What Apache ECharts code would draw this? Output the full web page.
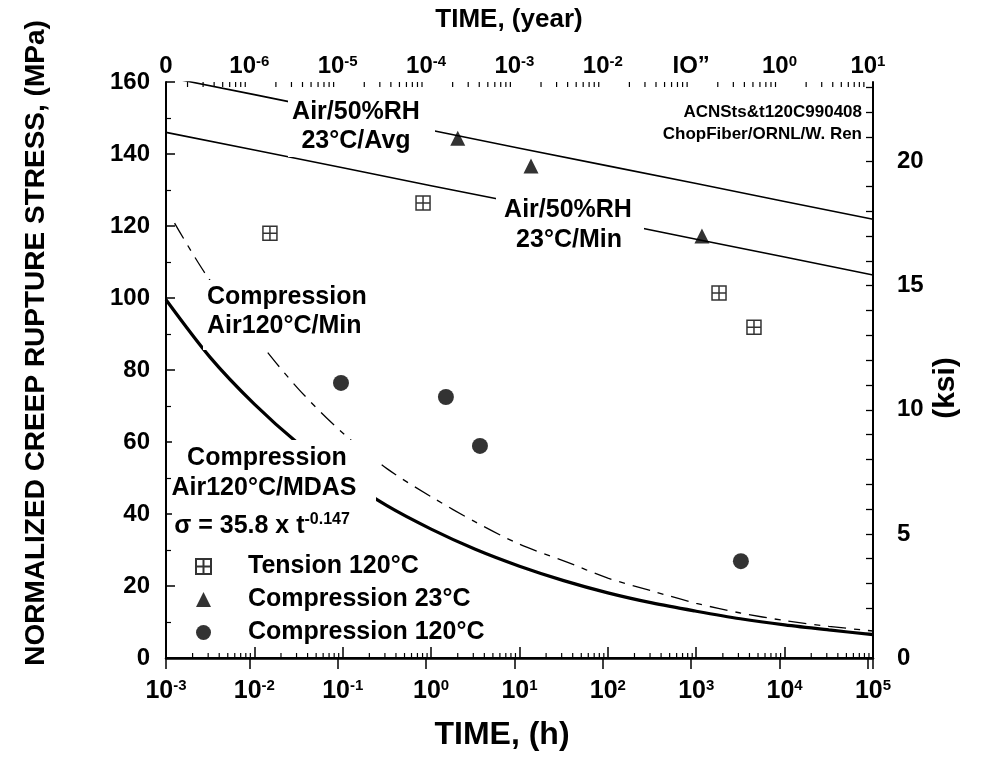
<!DOCTYPE html>
<html><head><meta charset="utf-8">
<script src="https://cdn.jsdelivr.net/npm/echarts@6/dist/echarts.min.js"></script>
<style>html,body{margin:0;padding:0;background:#fff}#c{width:993px;height:760px}</style>
</head><body><div id="c"></div>
<script>
const FONT = "'Liberation Sans', Arial, Helvetica, sans-serif";

// ---- data (time in hours, stress in MPa) ----
const tensionTime   = [0.015, 0.81, 1810, 4500];
const tensionStress = [118.0, 126.4, 101.4, 91.9];
const comp23Time    = [2.0, 13.5, 1160];
const comp23Stress  = [144.4, 136.7, 117.2];
const comp120Time   = [0.0955, 1.47, 3.57, 3200];
const comp120Stress = [76.4, 72.5, 58.9, 26.9];

const decadeTime = [1e-3, 1e-2, 1e-1, 1, 10, 100, 1e3, 1e4, 1e5];
const avgStress  = [161.4, 156.5, 151.5, 146.6, 141.6, 136.7, 131.8, 126.8, 121.9];
const minStress  = [146.0, 141.1, 136.2, 131.2, 126.3, 121.3, 116.3, 111.4, 106.4];

const dashTime   = [1.25e-3, 3e-3, 1e-2, 3.16e-2, 1e-1, 0.316, 1, 3.16, 10, 31.6, 100, 316, 1e3, 3160, 1e4, 31600, 1e5];
const dashStress = [120.8, 105.6, 89.4, 74.7, 62.5, 52.6, 44.8, 37.8, 31.6, 27.0, 22.2, 18.6, 15.2, 12.5, 10.4, 8.8, 7.5];
const mdasTime   = [1e-3, 3.16e-3, 1e-2, 3.16e-2, 1e-1, 0.316, 1, 3.16, 10, 31.6, 100, 316, 1e3, 3160, 1e4, 31600, 1e5];
const mdasStress = [99.5, 83.5, 70.5, 59.5, 50.3, 42.3, 35.8, 30.2, 25.5, 21.5, 18.1, 15.3, 13.0, 10.9, 9.2, 7.8, 6.5];

// ---- axes ----
const hourMin = 1e-3, hourMax = 1e5;
const HOURS_PER_YEAR = 8760;
const yearMin = hourMin / HOURS_PER_YEAR, yearMax = hourMax / HOURS_PER_YEAR;
const MPA_PER_KSI = 6.894757;
const stressMax = 160;
const ksiLabels = [0, 5, 10, 15, 20];
const yearExpLabels = {'-6':'-6','-5':'-5','-4':'-4','-3':'-3','-2':'-2','0':'0','1':'1'};
const yearOddLabel = {'-1': 'IO\u201d'};

const minorMult = [2,3,4,5,6,7,8,9];
const hourMinor = [];
for (let k = -3; k <= 4; k++) minorMult.forEach(m => hourMinor.push(m * Math.pow(10, k)));
const yearMinor = [];
for (let k = -7; k <= 1; k++) minorMult.forEach(m => { const v = m * Math.pow(10, k); if (v > yearMin && v < yearMax) yearMinor.push(v); });

const zip = (a, b) => a.map((v, i) => [v, b[i]]);

const richBottom = {
  b: {fontSize: 25, fontWeight: 'bold', fontFamily: FONT, color: '#000', lineHeight: 26},
  s: {fontSize: 15, fontWeight: 'bold', fontFamily: FONT, color: '#000', lineHeight: 14, verticalAlign: 'top'}
};
const richTop = {
  b: {fontSize: 24, fontWeight: 'bold', fontFamily: FONT, color: '#000', lineHeight: 24},
  s: {fontSize: 15, fontWeight: 'bold', fontFamily: FONT, color: '#000', lineHeight: 13, verticalAlign: 'top'}
};
function expOf(v) { const l = Math.log10(v); const e = Math.round(l); return Math.abs(l - e) < 1e-6 ? e : null; }

const chart = echarts.init(document.getElementById('c'), null, {renderer: 'canvas'});

function minorTickSeries(xIdx, values, yVal, dir) {
  return {
    type: 'custom', xAxisIndex: xIdx, yAxisIndex: 0, silent: true, z: 5,
    data: values.map(v => [v, yVal]),
    renderItem: (params, api) => {
      const p = api.coord([api.value(0), api.value(1)]);
      return {type: 'line', shape: {x1: p[0], y1: p[1], x2: p[0], y2: p[1] + dir * 5},
              style: {stroke: '#000', lineWidth: 1.2}};
    }
  };
}

const tensionSymbol = 'path://M0,0L10,0L10,10L0,10Z M5,0L5,10 M0,5L10,5';

const boxes = [
  [288, 97, 147, 60],
  [496, 196, 148, 58],
  [203, 280, 166, 70],
  [172, 440, 204, 104]
];
const annFont = 'bold 25px ' + FONT;
const annotations = [
  ['Air/50%RH', 356, 112, 'center'],
  ['23°C/Avg', 356, 141, 'center'],
  ['Air/50%RH', 568, 210, 'center'],
  ['23°C/Min', 569, 240, 'center'],
  ['Compression', 207, 297, 'left'],
  ['Air120°C/Min', 207, 326, 'left'],
  ['Compression', 267, 458, 'center'],
  ['Air120°C/MDAS', 264, 488, 'center']
];

const graphics = [];
boxes.forEach(b => graphics.push({type: 'rect', z: 50, silent: true, shape: {x: b[0], y: b[1], width: b[2], height: b[3]}, style: {fill: '#fff'}}));
annotations.forEach(a => graphics.push({type: 'text', z: 60, x: a[1], y: a[2], style: {text: a[0], font: annFont, fill: '#000', align: a[3], verticalAlign: 'middle'}}));
graphics.push({type: 'text', z: 60, x: 262, y: 526, style: {
  text: '{a|σ = 35.8 x t}{b|-0.147}', align: 'center', verticalAlign: 'middle',
  rich: {a: {font: annFont, fill: '#000', lineHeight: 28}, b: {font: 'bold 16px ' + FONT, fill: '#000', lineHeight: 14, verticalAlign: 'top'}}
}});
graphics.push({type: 'text', z: 60, x: 862, y: 112, style: {text: 'ACNSts&t120C990408', font: 'bold 17px ' + FONT, fill: '#000', align: 'right', verticalAlign: 'middle'}});
graphics.push({type: 'text', z: 60, x: 862, y: 134, style: {text: 'ChopFiber/ORNL/W. Ren', font: 'bold 17px ' + FONT, fill: '#000', align: 'right', verticalAlign: 'middle'}});
// axis titles
graphics.push({type: 'text', z: 60, x: 36, y: 343, rotation: Math.PI / 2, style: {text: 'NORMALIZED CREEP RUPTURE STRESS, (MPa)', font: 'bold 28px ' + FONT, fill: '#000', align: 'center', verticalAlign: 'middle'}});
graphics.push({type: 'text', z: 60, x: 946, y: 388, rotation: Math.PI / 2, style: {text: '(ksi)', font: 'bold 30px ' + FONT, fill: '#000', align: 'center', verticalAlign: 'middle'}});
graphics.push({type: 'text', z: 60, x: 509, y: 20, style: {text: 'TIME, (year)', font: 'bold 26px ' + FONT, fill: '#000', align: 'center', verticalAlign: 'middle'}});
graphics.push({type: 'text', z: 60, x: 502, y: 735, style: {text: 'TIME, (h)', font: 'bold 32px ' + FONT, fill: '#000', align: 'center', verticalAlign: 'middle'}});

const option = {
  animation: false,
  backgroundColor: '#fff',
  grid: {left: 166, right: 120, top: 82, bottom: 102, containLabel: false},
  legend: {
    orient: 'vertical', left: 190, top: 549, itemWidth: 15, itemHeight: 15, itemGap: 8,
    data: ['Tension 120°C', 'Compression 23°C', 'Compression 120°C'],
    textStyle: {fontSize: 25, fontWeight: 'bold', fontFamily: FONT, color: '#000', lineHeight: 20, padding: [0, 0, 0, 32]},
    selectedMode: false
  },
  xAxis: [
    {type: 'log', logBase: 10, min: hourMin, max: hourMax, position: 'bottom',
     axisLine: {show: true, lineStyle: {color: '#000', width: 2.5}},
     axisTick: {show: true, inside: true, length: 11, lineStyle: {color: '#000', width: 1.5}},
     splitLine: {show: false},
     axisLabel: {margin: 20, formatter: v => { const e = expOf(v); return e === null ? '' : '{b|10}{s|' + e + '}'; }, rich: richBottom}},
    {type: 'log', logBase: 10, min: yearMin, max: yearMax, position: 'top',
     axisLine: {show: true, lineStyle: {color: '#000', width: 2}},
     axisTick: {show: true, inside: true, length: 11, lineStyle: {color: '#000', width: 1.5}},
     splitLine: {show: false},
     axisLabel: {margin: 4, showMinLabel: true, showMaxLabel: true, formatter: v => {
       if (v <= yearMin * 1.001) return '{b|0}';
       const e = expOf(v); if (e === null) return '';
       if (yearOddLabel[String(e)]) return '{b|' + yearOddLabel[String(e)] + '}';
       if (yearExpLabels[String(e)] !== undefined) return '{b|10}{s|' + yearExpLabels[String(e)] + '}';
       return '';
     }, rich: richTop}}
  ],
  yAxis: [
    {type: 'value', min: 0, max: stressMax, interval: 20, position: 'left',
     axisLine: {show: true, lineStyle: {color: '#000', width: 2}},
     axisTick: {show: true, inside: true, length: 9, lineStyle: {color: '#000', width: 1.5}},
     minorTick: {show: true, splitNumber: 2, length: 5, lineStyle: {color: '#000', width: 1.2}},
     splitLine: {show: false},
     axisLabel: {margin: 16, fontSize: 24, fontWeight: 'bold', fontFamily: FONT, color: '#000'}},
    {type: 'value', min: 0, max: stressMax / MPA_PER_KSI, interval: 1, position: 'right',
     axisLine: {show: true, lineStyle: {color: '#000', width: 2}},
     axisTick: {show: true, inside: true, length: 7, lineStyle: {color: '#000', width: 1.3}},
     splitLine: {show: false},
     axisLabel: {margin: 24, fontSize: 24, fontWeight: 'bold', fontFamily: FONT, color: '#000', showMaxLabel: false,
       formatter: v => ksiLabels.indexOf(Math.round(v * 1000) / 1000) >= 0 ? String(v) : ''}}
  ],
  series: [
    {name: 'Air/50%RH 23°C/Avg', type: 'line', xAxisIndex: 0, yAxisIndex: 0, data: zip(decadeTime, avgStress),
     showSymbol: false, symbol: 'none', lineStyle: {color: '#000', width: 1.6}, clip: true, z: 3},
    {name: 'Air/50%RH 23°C/Min', type: 'line', xAxisIndex: 0, yAxisIndex: 0, data: zip(decadeTime, minStress),
     showSymbol: false, symbol: 'none', lineStyle: {color: '#000', width: 1.6}, clip: true, z: 3},
    {name: 'Compression Air120°C/Min', type: 'line', xAxisIndex: 0, yAxisIndex: 0, data: zip(dashTime, dashStress),
     smooth: 0.3, showSymbol: false, symbol: 'none', lineStyle: {color: '#000', width: 1.3, type: [18, 8, 6, 8]}, clip: true, z: 3},
    {name: 'Compression Air120°C/MDAS', type: 'line', xAxisIndex: 0, yAxisIndex: 0, data: zip(mdasTime, mdasStress),
     smooth: 0.3, showSymbol: false, symbol: 'none', lineStyle: {color: '#000', width: 3.2}, clip: true, z: 3},
    {name: 'Tension 120°C', type: 'scatter', xAxisIndex: 0, yAxisIndex: 0, data: zip(tensionTime, tensionStress),
     symbol: tensionSymbol, symbolSize: 14, itemStyle: {color: '#fff', borderColor: '#000', borderWidth: 1.5}, z: 4},
    {name: 'Compression 23°C', type: 'scatter', xAxisIndex: 0, yAxisIndex: 0, data: zip(comp23Time, comp23Stress),
     symbol: 'triangle', symbolSize: 15, itemStyle: {color: '#000'}, z: 4},
    {name: 'Compression 120°C', type: 'scatter', xAxisIndex: 0, yAxisIndex: 0, data: zip(comp120Time, comp120Stress),
     symbol: 'circle', symbolSize: 16, itemStyle: {color: '#000'}, z: 4},
    minorTickSeries(0, hourMinor, 0, -1),
    minorTickSeries(1, yearMinor, stressMax, 1)
  ],
  graphic: graphics
};
chart.setOption(option);
</script></body></html>
